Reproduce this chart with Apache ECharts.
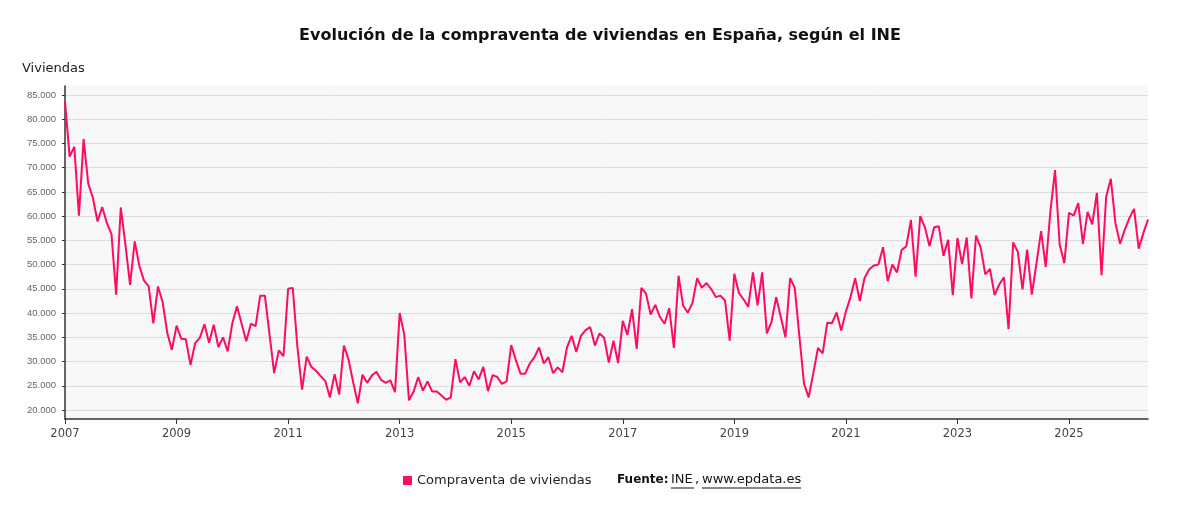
<!DOCTYPE html>
<html>
<head>
<meta charset="utf-8">
<script src="https://cdn.jsdelivr.net/npm/echarts@6/dist/echarts.min.js"></script>
<style>
html,body{margin:0;padding:0;background:#fff;}
#chart{width:1200px;height:515px;}
</style>
</head>
<body>
<div id="chart"></div>
<script>
const startYear = 2007;
const v2007 = [83600, 72300, 74300, 60100, 75900, 66700, 63800, 58900, 61900, 58600, 56300, 43800];
const v2008 = [61800, 54100, 45800, 54800, 49700, 46700, 45500, 37900, 45500, 42300, 35900, 32400];
const v2009 = [37400, 34700, 34600, 29300, 33800, 34900, 37700, 33900, 37600, 33000, 35000, 32100];
const v2010 = [37900, 41400, 37800, 34200, 37800, 37300, 43600, 43600, 35600, 27600, 32300, 31100];
const v2011 = [45000, 45200, 33000, 24200, 31000, 28900, 28100, 27000, 26000, 22600, 27400, 23200];
const v2012 = [33300, 30400, 25700, 21400, 27300, 25600, 27100, 27900, 26200, 25600, 26100, 23700];
const v2013 = [40000, 35500, 22000, 23800, 26800, 24000, 25900, 23800, 23800, 23000, 22100, 22600];
const v2014 = [30500, 25700, 26800, 25000, 28000, 26300, 28900, 23900, 27200, 26800, 25400, 25900];
const v2015 = [33400, 30300, 27500, 27500, 29600, 30900, 32900, 29600, 30900, 27600, 28800, 27800];
const v2016 = [32900, 35300, 32000, 35300, 36500, 37100, 33300, 35800, 34900, 29800, 34300, 29700];
const v2017 = [38400, 35500, 40800, 32600, 45200, 44000, 39700, 41700, 39200, 37800, 41000, 32800];
const v2018 = [47700, 41500, 40100, 42100, 47200, 45200, 46200, 45000, 43300, 43600, 42600, 34300];
const v2019 = [48100, 44100, 42800, 41300, 48400, 41600, 48400, 35800, 38200, 43300, 39200, 35000];
const v2020 = [47200, 45200, 35200, 25400, 22600, 27600, 32800, 31700, 38000, 37900, 40100, 36400];
const v2021 = [40300, 43300, 47200, 42500, 47200, 49000, 49800, 50000, 53600, 46600, 50000, 48400];
const v2022 = [53000, 53800, 59200, 47500, 60000, 57700, 53800, 57700, 57900, 51800, 55100, 43700];
const v2023 = [55500, 50100, 55600, 43000, 56000, 53500, 48000, 49100, 43700, 45900, 47400, 36700];
const v2024 = [54600, 52600, 44900, 53100, 43800, 50200, 56900, 49500, 61000, 69500, 54100, 50300];
const v2025 = [60700, 60100, 62700, 54300, 60900, 58300, 64800, 47800, 64000, 67700, 58500, 54300];
const v2026 = [57200, 59600, 61500, 53300, 56500, 59300];
const yearValues = [v2007, v2008, v2009, v2010, v2011, v2012, v2013, v2014, v2015, v2016,
  v2017, v2018, v2019, v2020, v2021, v2022, v2023, v2024, v2025, v2026];

const seriesName = 'Compraventa de viviendas';
const titleText = 'Evolución de la compraventa de viviendas en España, según el INE';
const yName = 'Viviendas';

const categories = [];
const values = [];
yearValues.forEach(function (arr, yi) {
  arr.forEach(function (v, mi) {
    categories.push((startYear + yi) + '-' + String(mi + 1).padStart(2, '0'));
    values.push(v);
  });
});

function fmtThousands(v) {
  return String(v).replace(/\B(?=(\d{3})+(?!\d))/g, '.');
}

const chart = echarts.init(document.getElementById('chart'));
const TEXT = 'DejaVu Sans';
chart.setOption({
  animation: false,
  backgroundColor: '#ffffff',
  title: {
    text: titleText,
    left: 'center',
    top: 23,
    textStyle: { fontFamily: TEXT, fontSize: 16, fontWeight: 'bold', color: '#111' }
  },
  legend: {
    left: 398,
    top: 469,
    icon: 'rect',
    itemWidth: 9,
    itemHeight: 9,
    itemGap: 6,
    textStyle: { fontFamily: TEXT, fontSize: 13, color: '#222' },
    data: [seriesName]
  },
  grid: [
    { left: 65, right: 52, top: 95, bottom: 105, show: false },
    { left: 65, right: 52, top: 86, bottom: 96, show: true, backgroundColor: '#f7f7f7', borderWidth: 0 }
  ],
  xAxis: [
    {
      type: 'category',
      gridIndex: 0,
      data: categories,
      boundaryGap: false,
      offset: 9,
      axisLine: { show: true, lineStyle: { color: '#333', width: 1.5 } },
      axisTick: { show: true, length: 5, interval: function (i) { return i % 24 === 0; }, lineStyle: { color: '#333' } },
      axisLabel: {
        interval: function (i) { return i % 24 === 0; },
        formatter: function (v) { return v.slice(0, 4); },
        fontFamily: TEXT, fontSize: 11.5, color: '#444', margin: 9
      },
      splitLine: { show: false }
    },
    {
      type: 'value', gridIndex: 1, min: 0, max: 1, show: false
    }
  ],
  yAxis: [
    {
      type: 'value',
      gridIndex: 0,
      min: 20000,
      max: 85000,
      interval: 5000,
      axisLine: { show: false },
      axisTick: { show: true, length: 3, lineStyle: { color: '#333' } },
      axisLabel: {
        formatter: function (v) { return fmtThousands(v); },
        fontFamily: 'Liberation Sans', fontSize: 9.5, color: '#666', margin: 9
      },
      splitLine: { show: true, lineStyle: { color: '#dddddd', width: 1 } }
    },
    {
      type: 'value', gridIndex: 1, min: 0, max: 1,
      axisLine: { show: true, lineStyle: { color: '#333', width: 1.5 } },
      axisTick: { show: false }, axisLabel: { show: false }, splitLine: { show: false }
    }
  ],
  graphic: [
    { type: 'text', left: 22, top: 62, style: { text: yName, fontFamily: TEXT, fontSize: 13, fill: '#222' } },
    { type: 'text', left: 617, top: 474, style: { text: 'Fuente:', fontFamily: TEXT, fontSize: 12, fontWeight: 'bold', fill: '#111' } },
    { type: 'text', left: 671, top: 473, style: { text: 'INE', fontFamily: TEXT, fontSize: 13, fill: '#111' } },
    { type: 'text', left: 695, top: 473, style: { text: ',', fontFamily: TEXT, fontSize: 13, fill: '#111' } },
    { type: 'text', left: 702, top: 473, style: { text: 'www.epdata.es', fontFamily: TEXT, fontSize: 13, fill: '#111' } },
    { type: 'line', shape: { x1: 671, y1: 488, x2: 694, y2: 488 }, style: { stroke: '#111', lineWidth: 1 } },
    { type: 'line', shape: { x1: 702, y1: 488, x2: 801, y2: 488 }, style: { stroke: '#111', lineWidth: 1 } }
  ],
  series: [
    {
      name: seriesName,
      type: 'line',
      xAxisIndex: 0,
      yAxisIndex: 0,
      data: values,
      showSymbol: false,
      symbol: 'none',
      lineStyle: { color: '#ff0a64', width: 2 },
      itemStyle: { color: '#ff0a64' },
      z: 5
    }
  ]
});
</script>
</body>
</html>
